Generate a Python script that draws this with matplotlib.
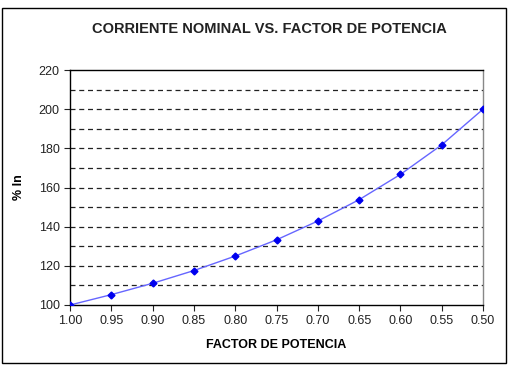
import matplotlib.pyplot as plt
from matplotlib.patches import Rectangle
import numpy as np

# datos
factor_potencia = [1.00, 0.95, 0.90, 0.85, 0.80, 0.75, 0.70, 0.65, 0.60, 0.55, 0.50]
corriente_pct = [100, 105.3, 111.1, 117.6, 125, 133.3, 142.9, 153.8, 166.7, 181.8, 200]
xticks = [1.00, 0.95, 0.90, 0.85, 0.80, 0.75, 0.70, 0.65, 0.60, 0.55, 0.50]
yticks = [100, 120, 140, 160, 180, 200, 220]

plt.rcParams['font.family'] = ['Liberation Sans', 'DejaVu Sans']

fig = plt.figure(figsize=(5.16, 3.67), dpi=100)
ax = fig.add_axes([0.136, 0.169, 0.800, 0.640])

# lineas de division cada 10
for g in np.arange(110, 220, 10):
    ax.axhline(g, color="#222222", lw=0.9, ls=(0, (4, 3)), zorder=1)

ax.plot(factor_potencia, corriente_pct, color="#6666ff", lw=1.0, zorder=2)
ax.plot(factor_potencia, corriente_pct, ls="none", marker="D", ms=3.5,
        color="#0000ee", zorder=3)

ax.set_xlim(1.00, 0.50)
ax.set_ylim(100, 220)
ax.set_xticks(xticks)
ax.set_xticklabels([f"{v:.2f}" for v in xticks])
ax.set_yticks(yticks)
ax.tick_params(labelsize=9, colors="#222222", length=4, direction="out")

for s in ax.spines.values():
    s.set_color("black")
    s.set_linewidth(1.0)
ax.spines["right"].set_color("#888888")

ax.set_xlabel("FACTOR DE POTENCIA", fontsize=9, fontweight="bold", labelpad=8)
ax.set_ylabel("% In", fontsize=9, fontweight="bold", labelpad=10)

fig.text(0.522, 0.922, "CORRIENTE NOMINAL VS. FACTOR DE POTENCIA",
         ha="center", va="center", fontsize=10.5, fontweight="bold", color="#222222")

# marco exterior
fig.patches.append(Rectangle((0.004, 0.01), 0.977, 0.968, transform=fig.transFigure,
                             fill=False, edgecolor="black", lw=1.0))

fig.savefig("out.png", dpi=100)
